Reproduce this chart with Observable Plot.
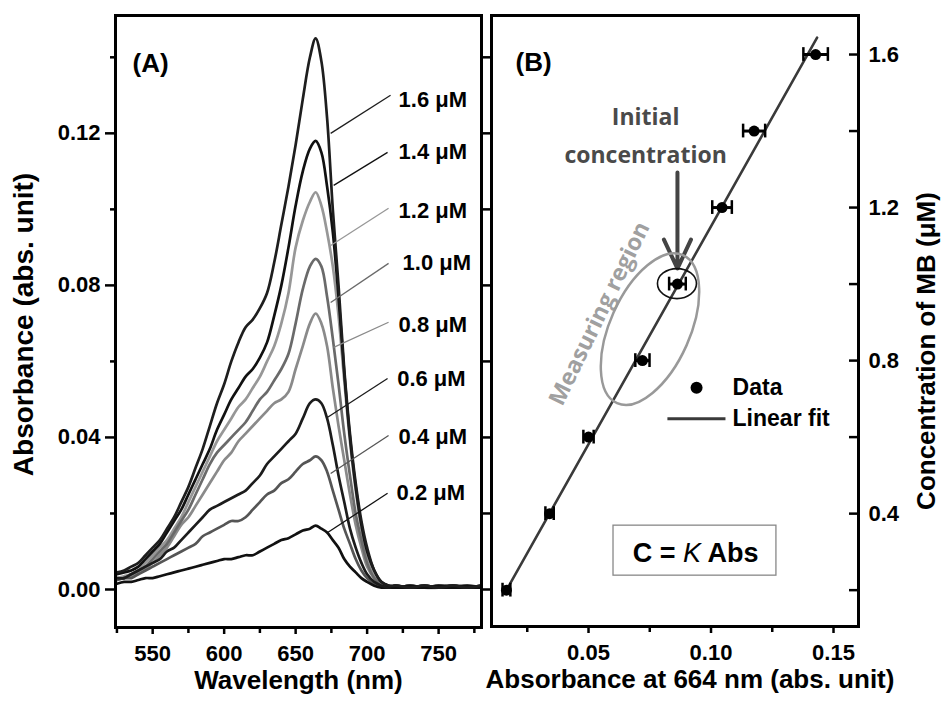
<!DOCTYPE html>
<html><head><meta charset="utf-8">
<script src="https://cdn.jsdelivr.net/npm/d3@7"></script>
<script src="https://cdn.jsdelivr.net/npm/@observablehq/plot@0.6"></script>
<style>
body{margin:0;background:#fff;}
#wrap{position:relative;width:943px;height:704px;overflow:hidden;background:#fff;}
</style></head><body><div id="wrap"></div>
<script>
// ---------- Panel A data ----------
const wavelengths = [525,530,535,540,545,550,555,560,
 565,570,575,580,585,590,595,600,
 605,610,615,620,625,630,635,640,
 645,650,655,660,664,668,672,676,
 680,684,688,692,696,700,705,710,
 715,720,730,740,750,760,770,780];
const abs16 = [0.0045,0.005,0.006,0.007,0.009,0.011,0.013,0.016,
 0.019,0.023,0.027,0.032,0.037,0.043,0.049,0.054,
 0.060,0.065,0.069,0.071,0.074,0.078,0.086,0.096,
 0.106,0.117,0.129,0.140,0.145,0.139,0.124,0.100,
 0.080,0.058,0.041,0.028,0.018,0.011,0.005,0.002,
 0.001,0.001,0.0005,0.001,0.0005,0.001,0.0005,0.001];
const abs14 = [0.004,0.0045,0.005,0.006,0.008,0.010,0.012,0.015,
 0.018,0.021,0.025,0.029,0.033,0.037,0.042,0.046,
 0.050,0.053,0.056,0.058,0.061,0.065,0.072,0.080,
 0.090,0.101,0.110,0.116,0.118,0.115,0.106,0.094,
 0.077,0.057,0.040,0.027,0.017,0.010,0.005,0.002,
 0.001,0.0005,0.001,0.0005,0.001,0.0005,0.001,0.0005];
const abs12 = [0.003,0.0035,0.004,0.005,0.007,0.009,0.011,0.013,
 0.016,0.019,0.023,0.027,0.031,0.035,0.039,0.042,
 0.045,0.048,0.050,0.053,0.056,0.060,0.064,0.070,
 0.078,0.090,0.097,0.102,0.1045,0.101,0.094,0.085,
 0.072,0.055,0.039,0.026,0.016,0.009,0.004,0.002,
 0.001,0.001,0.0005,0.001,0.0005,0.001,0.001,0.0005];
const abs10 = [0.003,0.003,0.004,0.005,0.006,0.008,0.010,0.012,
 0.015,0.018,0.021,0.025,0.029,0.033,0.036,0.038,
 0.040,0.042,0.044,0.047,0.050,0.052,0.055,0.058,
 0.062,0.070,0.079,0.085,0.087,0.085,0.077,0.066,
 0.054,0.041,0.030,0.020,0.013,0.007,0.003,0.0015,
 0.001,0.0005,0.001,0.0005,0.001,0.001,0.0005,0.001];
const abs08 = [0.0025,0.003,0.0035,0.0045,0.0055,0.007,0.009,0.011,
 0.014,0.017,0.019,0.022,0.025,0.028,0.031,0.034,
 0.036,0.039,0.041,0.043,0.045,0.047,0.049,0.050,
 0.052,0.058,0.064,0.070,0.0726,0.070,0.064,0.053,
 0.043,0.034,0.025,0.017,0.011,0.006,0.003,0.0015,
 0.001,0.0005,0.001,0.0005,0.0005,0.001,0.0005,0.001];
const abs06 = [0.003,0.003,0.004,0.005,0.006,0.007,0.008,0.010,
 0.011,0.013,0.015,0.017,0.019,0.021,0.022,0.023,
 0.024,0.025,0.026,0.028,0.030,0.033,0.035,0.037,
 0.039,0.041,0.045,0.049,0.050,0.049,0.045,0.038,
 0.030,0.023,0.016,0.011,0.007,0.004,0.002,0.001,
 0.0005,0.001,0.0005,0.001,0.0005,0.001,0.0005,0.001];
const abs04 = [0.0025,0.003,0.003,0.004,0.005,0.006,0.007,0.008,
 0.009,0.010,0.011,0.012,0.014,0.015,0.016,0.017,
 0.018,0.018,0.019,0.021,0.023,0.025,0.026,0.028,
 0.029,0.031,0.033,0.034,0.035,0.034,0.031,0.026,
 0.021,0.016,0.012,0.008,0.005,0.003,0.0015,0.001,
 0.0005,0.001,0.0005,0.001,0.0005,0.001,0.0005,0.0005];
const abs02 = [0.0015,0.002,0.002,0.0025,0.003,0.003,0.0035,0.004,
 0.0045,0.005,0.0055,0.006,0.0065,0.007,0.0075,0.008,
 0.008,0.0085,0.009,0.009,0.010,0.011,0.012,0.013,
 0.0135,0.0145,0.0155,0.016,0.0168,0.016,0.015,0.013,
 0.011,0.008,0.006,0.0045,0.003,0.002,0.001,0.0005,
 0.0005,0.0005,0.0005,0.0005,0.0005,0.0005,0.0005,0.0005];

const seriesNames = ["0.2 μM","0.4 μM","0.6 μM","0.8 μM","1.0 μM","1.2 μM","1.4 μM","1.6 μM"];
const seriesValues = [abs02, abs04, abs06, abs08, abs10, abs12, abs14, abs16];
const seriesColors = ["#111111","#555555","#1c1c1c","#8a8a8a","#6a6a6a","#979797","#111111","#1e1e1e"];
const drawOrder = [5,3,4,1,0,2,6,7];

// curve label annotations (data units: nm, abs)
const leaderFromNm  = [672.4, 674.5, 672.4, 676.6, 674.5, 674.5, 676.6, 674.5];
const leaderFromAbs = [0.0150,0.0305,0.0453,0.0637,0.0755,0.0905,0.1063,0.1200];
const leaderToNm    = [714.3, 715, 714.3, 715, 715, 715, 714.3, 716.4];
const leaderToAbs   = [0.0253,0.0405,0.0555,0.0703,0.0858,0.1003,0.1150,0.1300];
const labelNm       = [720.6, 722, 721, 722, 724.8, 722, 722, 722];
const labelAbs      = [0.0253,0.0400,0.0555,0.0695,0.0858,0.0995,0.1150,0.1287];

const xTicksA = [550,600,650,700,750];
const xMinorA = [525,575,625,675,725,775];
const yTicksA = [0,0.04,0.08,0.12];
const yMinorA = [0.02,0.06,0.10,0.14];
const yAllA = [0,0.02,0.04,0.06,0.08,0.10,0.12,0.14];

// ---------- Panel B data ----------
const concentrations = [0.2,0.4,0.6,0.8,1.0,1.2,1.4,1.6];
const absAt664 = [0.0165,0.0341,0.0500,0.0720,0.0863,0.1045,0.1176,0.1427];
const absError = [0.0016,0.0017,0.0021,0.0029,0.0034,0.0040,0.0045,0.0050];
const fitAbs = [0.0165, 0.1433];
const fitConc = [0.2, 1.644];

const xTicksB = [0.05,0.10,0.15];
const xMinorB = [0.025,0.075,0.125];
const yTicksB = [0.4,0.8,1.2,1.6];
const yAllB = [0.2,0.4,0.6,0.8,1.0,1.2,1.4,1.6];

const FONT = "'Liberation Sans', Arial, sans-serif";
const CAL = "'Open Sans', Lato, sans-serif";

const rowsA = [];
seriesValues.forEach((vals, s) => vals.forEach((v, i) => rowsA.push({s, nm: wavelengths[i], a: v})));
const idx8 = d3.range(8);

const lineMarks = drawOrder.map(s => Plot.line(rowsA.filter(r => r.s === s), {
  x: "nm", y: "a", stroke: seriesColors[s], strokeWidth: 2.7, curve: "catmull-rom"
}));

const plotA = Plot.plot({
  width: 492, height: 704,
  marginLeft: 115, marginRight: 11, marginTop: 15, marginBottom: 77,
  x: {domain: [524, 780], label: null},
  y: {domain: [-0.01, 0.151], label: null},
  style: {fontFamily: FONT, fontSize: "22px", fontWeight: "bold", background: "transparent",
          position: "absolute", left: "0px", top: "0px", overflow: "visible", color: "#000"},
  marks: [
    ...lineMarks,
    Plot.link(idx8, {x1: i => leaderFromNm[i], y1: i => leaderFromAbs[i], x2: i => leaderToNm[i], y2: i => leaderToAbs[i],
      stroke: i => seriesColors[i], strokeWidth: 1.3}),
    Plot.text(idx8, {x: i => labelNm[i], y: i => labelAbs[i], text: i => seriesNames[i], textAnchor: "start",
      fontSize: 22, fontWeight: "bold", fill: "#000"}),
    Plot.frame({stroke: "#000", strokeWidth: 3}),
    Plot.axisY({ticks: yTicksA, anchor: "left", tickSize: 10, tickPadding: 5, tickFormat: d3.format(".2f"), label: null, strokeWidth: 2.5}),
    Plot.axisY({ticks: yMinorA, anchor: "left", tickSize: 5, tickFormat: () => "", label: null, strokeWidth: 2.5}),
    Plot.axisY({ticks: yAllA, anchor: "right", tickSize: 8, tickFormat: () => "", label: null, strokeWidth: 2.5}),
    Plot.axisX({ticks: xTicksA, anchor: "bottom", tickSize: 7, tickPadding: 11, tickFormat: d3.format("d"), label: null, strokeWidth: 2.5}),
    Plot.axisX({ticks: xMinorA, anchor: "bottom", tickSize: 6, tickFormat: () => "", label: null, strokeWidth: 2.5}),
    Plot.text(["(A)"], {frameAnchor: "top-left", dx: 17, dy: 38, textAnchor: "start", fontSize: 26, fontWeight: "bold"}),
    Plot.text(["Wavelength (nm)"], {frameAnchor: "bottom", dy: 61, textAnchor: "middle", fontSize: 26, fontWeight: "bold"}),
    Plot.text(["Absorbance (abs. unit)"], {frameAnchor: "left", dx: -91, dy: 3, rotate: -90, textAnchor: "middle", fontSize: 28, fontWeight: "bold"})
  ]
});

const pts = concentrations.map((c, i) => ({c, a: absAt664[i], e: absError[i]}));
const capHalf = 0.018;
const fitPts = fitAbs.map((a, i) => ({a, c: fitConc[i]}));

// annotation anchors (data units: abs, conc)
const initialTextPos = [0.0733, 1.399];
const arrowFrom = [0.0863, 1.2915];
const arrowTo = [0.0863, 1.0405];
const measuringTextPos = [0.0545, 0.923];
const legendDotPos = [0.0941, 0.729];
const legendLine = [0.0822, 0.1059, 0.648];
const legendTextX = 0.1088;
const boxX = [0.0602, 0.1267];
const boxY = [0.2379, 0.3686];
const formulaPos = [0.0939, 0.298];
const regionEllipse = [0.0753, 0.881];

const plotB = Plot.plot({
  width: 457, height: 704,
  marginLeft: 5, marginRight: 85, marginTop: 15, marginBottom: 78,
  x: {domain: [0.0104, 0.1602], label: null},
  y: {domain: [0.105, 1.702], label: null},
  style: {fontFamily: FONT, fontSize: "22px", fontWeight: "bold", background: "transparent",
          position: "absolute", left: "486px", top: "0px", overflow: "visible", color: "#000"},
  marks: [
    Plot.line(fitPts, {x: "a", y: "c", stroke: "#3a3a3a", strokeWidth: 2.6}),
    Plot.ruleY(pts, {y: "c", x1: d => d.a - d.e, x2: d => d.a + d.e, stroke: "#000", strokeWidth: 3}),
    Plot.ruleX(pts, {x: d => d.a - d.e, y1: d => d.c - capHalf, y2: d => d.c + capHalf, stroke: "#000", strokeWidth: 2.5}),
    Plot.ruleX(pts, {x: d => d.a + d.e, y1: d => d.c - capHalf, y2: d => d.c + capHalf, stroke: "#000", strokeWidth: 2.5}),
    Plot.dot(pts, {x: "a", y: "c", r: 5.5, fill: "#000", stroke: "none"}),
    Plot.text(["Initial\nconcentration"], {x: initialTextPos[0], y: initialTextPos[1], lineHeight: 1.65,
      fill: "#4a4a4a", fontFamily: CAL, fontWeight: 700, fontSize: 23}),
    Plot.arrow([0], {x1: arrowFrom[0], y1: arrowFrom[1], x2: arrowTo[0], y2: arrowTo[1],
      stroke: "#444", strokeWidth: 4, headLength: 14, headAngle: 50}),
    Plot.text(["Measuring region"], {x: measuringTextPos[0], y: measuringTextPos[1], rotate: -64,
      fill: "#a0a0a0", fontFamily: CAL, fontWeight: 700, fontSize: 23}),
    Plot.dot([0], {x: legendDotPos[0], y: legendDotPos[1], r: 6, fill: "#000", stroke: "none"}),
    Plot.text(["Data"], {x: legendTextX, y: legendDotPos[1], textAnchor: "start", fontSize: 23, fontWeight: "bold"}),
    Plot.link([0], {x1: legendLine[0], x2: legendLine[1], y1: legendLine[2], y2: legendLine[2], stroke: "#3a3a3a", strokeWidth: 3}),
    Plot.text(["Linear fit"], {x: legendTextX, y: legendLine[2], textAnchor: "start", fontSize: 23, fontWeight: "bold"}),
    Plot.rect([0], {x1: boxX[0], x2: boxX[1], y1: boxY[0], y2: boxY[1], fill: "none", stroke: "#888", strokeWidth: 1.3}),
    Plot.frame({stroke: "#000", strokeWidth: 3}),
    Plot.axisX({ticks: xTicksB, anchor: "bottom", tickSize: 7, tickPadding: 11, tickFormat: d3.format(".2f"), label: null, strokeWidth: 2.5}),
    Plot.axisX({ticks: xMinorB, anchor: "bottom", tickSize: 6, tickFormat: () => "", label: null, strokeWidth: 2.5}),
    Plot.axisY({ticks: yTicksB, anchor: "right", tickSize: 0, tickPadding: 10, tickFormat: d3.format(".1f"), label: null}),
    Plot.axisY({ticks: yAllB, anchor: "right", tickSize: -10, tickFormat: () => "", label: null, strokeWidth: 2.5}),
    Plot.text(["(B)"], {frameAnchor: "top-left", dx: 24, dy: 37, textAnchor: "start", fontSize: 26, fontWeight: "bold"}),
    Plot.text(["Absorbance at 664 nm (abs. unit)"], {frameAnchor: "bottom", dx: 15, dy: 61, textAnchor: "middle", fontSize: 26, fontWeight: "bold"}),
    Plot.text(["Concentration of MB (μM)"], {frameAnchor: "right", dx: 68, dy: 30, rotate: -90, textAnchor: "middle", fontSize: 26, fontWeight: "bold"})
  ]
});

function scaleFn(plot, name) {
  const s = plot.scale(name);
  if (s && typeof s.apply === "function") return v => s.apply(v);
  return d3.scaleLinear(s.domain, s.range);
}
const XB = scaleFn(plotB, "x"), YB = scaleFn(plotB, "y");
const gB = d3.select(plotB).append("g");
// measuring region ellipse
gB.append("ellipse")
  .attr("cx", XB(regionEllipse[0])).attr("cy", YB(regionEllipse[1]))
  .attr("rx", 40).attr("ry", 81)
  .attr("transform", `rotate(24,${XB(regionEllipse[0])},${YB(regionEllipse[1])})`)
  .attr("fill", "none").attr("stroke", "#999").attr("stroke-width", 2.5);
// initial concentration ellipse around 1.0 µM point
gB.append("ellipse")
  .attr("cx", XB(absAt664[4])).attr("cy", YB(concentrations[4]))
  .attr("rx", 19.5).attr("ry", 15)
  .attr("fill", "none").attr("stroke", "#111").attr("stroke-width", 1.6);
// formula
const ft = gB.append("text")
  .attr("x", XB(formulaPos[0])).attr("y", YB(formulaPos[1]))
  .attr("dy", "0.35em").attr("text-anchor", "middle")
  .attr("font-family", FONT).attr("font-size", 27);
ft.append("tspan").attr("font-weight", "bold").text("C = ");
ft.append("tspan").attr("font-weight", "normal").attr("font-style", "italic").text("K");
ft.append("tspan").attr("font-weight", "bold").text(" Abs");

const wrap = document.getElementById("wrap");
wrap.appendChild(plotA);
wrap.appendChild(plotB);
</script>
</body></html>
